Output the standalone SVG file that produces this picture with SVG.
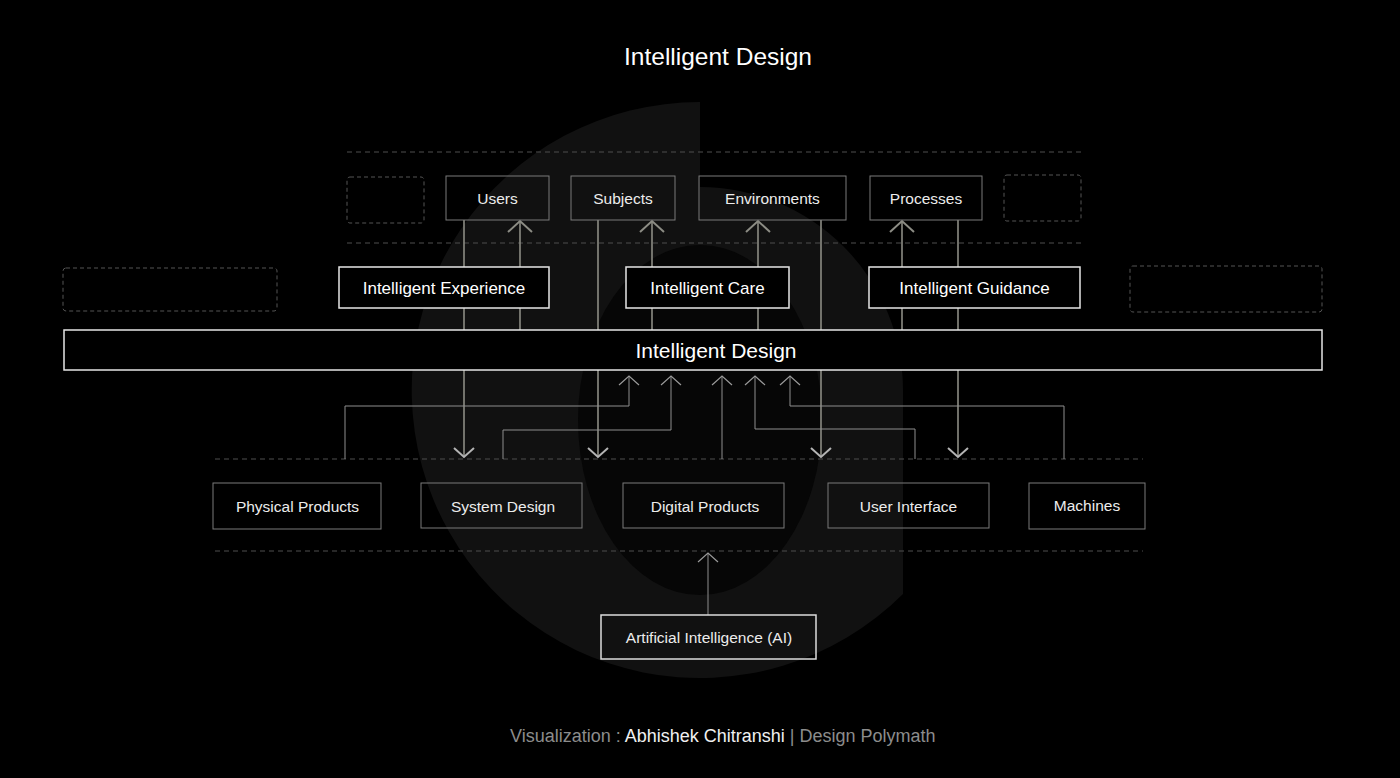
<svg xmlns="http://www.w3.org/2000/svg" width="1400" height="778" viewBox="0 0 1400 778">
<defs>
<style>
text{font-family:"Liberation Sans",Arial,sans-serif;text-anchor:middle}
.lbl{font-size:15.5px;fill:#ececec}
.mid{font-size:17px;fill:#ffffff}
.box{fill:none;stroke:#7a7a7a;stroke-width:1}
.wbox{fill:#000;stroke:#e6e6e6;stroke-width:1.5}
.ph{fill:none;stroke:#555;stroke-width:1;stroke-dasharray:4 3}
.dash{stroke:#4e4e4e;stroke-width:1;stroke-dasharray:5 4;fill:none}
.ct{fill:none;stroke:#8c8c84;stroke-width:1.6}
.cl{fill:none;stroke:#8e8e8e;stroke-width:1}
</style>
<marker id="aTop" markerUnits="userSpaceOnUse" markerWidth="30" markerHeight="30" viewBox="-15 -15 30 30" refX="0" refY="0" orient="auto" overflow="visible">
<path d="M-11,-12 L0,0 L-11,12" fill="none" stroke="#8c8c84" stroke-width="2"/>
</marker>
<marker id="aDown" markerUnits="userSpaceOnUse" markerWidth="30" markerHeight="30" viewBox="-15 -15 30 30" refX="0" refY="0" orient="auto" overflow="visible">
<path d="M-9,-10 L0,0 L-9,10" fill="none" stroke="#b4b4b4" stroke-width="2"/>
</marker>
<marker id="aLow" markerUnits="userSpaceOnUse" markerWidth="30" markerHeight="30" viewBox="-15 -15 30 30" refX="0" refY="0" orient="auto" overflow="visible">
<path d="M-9,-10 L0,0 L-9,10" fill="none" stroke="#9a9a9a" stroke-width="1.2"/>
</marker>
</defs>
<rect width="1400" height="778" fill="#000"/>
<g id="background-logo">
<path d="M700,102 A288,288 0 1 0 903,594 L903,390 A203,203 0 0 0 700,187 Z" fill="#111111"/>
<ellipse cx="700" cy="420" rx="122" ry="175" fill="#060606"/>
</g>
<text x="718" y="65" style="font-size:24.5px;fill:#fff">Intelligent Design</text>
<g id="guides">
<line class="dash" x1="347" y1="152" x2="1081" y2="152"/>
<line class="dash" x1="347" y1="243" x2="1081" y2="243"/>
<line class="dash" x1="215" y1="459" x2="1143" y2="459"/>
<line class="dash" x1="215" y1="551" x2="1143" y2="551"/>
</g>
<g id="connectors">
<line class="ct" x1="464" y1="220" x2="464" y2="457" marker-end="url(#aDown)"/>
<line class="ct" x1="520" y1="330" x2="520" y2="221" marker-end="url(#aTop)"/>
<line class="ct" x1="598" y1="220" x2="598" y2="457" marker-end="url(#aDown)"/>
<line class="ct" x1="652" y1="330" x2="652" y2="221" marker-end="url(#aTop)"/>
<line class="ct" x1="758" y1="330" x2="758" y2="221" marker-end="url(#aTop)"/>
<line class="ct" x1="821" y1="220" x2="821" y2="457" marker-end="url(#aDown)"/>
<line class="ct" x1="902" y1="330" x2="902" y2="221" marker-end="url(#aTop)"/>
<line class="ct" x1="958" y1="220" x2="958" y2="457" marker-end="url(#aDown)"/>
<path class="cl" d="M345,459 V406 H629 V376" marker-end="url(#aLow)"/>
<path class="cl" d="M503,459 V430 H671 V376" marker-end="url(#aLow)"/>
<path class="cl" d="M722,459 V376" marker-end="url(#aLow)"/>
<path class="cl" d="M915,459 V429 H755 V376" marker-end="url(#aLow)"/>
<path class="cl" d="M1064,459 V406 H790 V376" marker-end="url(#aLow)"/>
<path class="cl" d="M708,615 V553" marker-end="url(#aLow)"/>
</g>
<g id="placeholders">
<rect class="ph" x="347" y="177" width="77" height="46" rx="3"/>
<rect class="ph" x="1004" y="175" width="77" height="46" rx="3"/>
<rect class="ph" x="63" y="268" width="214" height="43" rx="3"/>
<rect class="ph" x="1130" y="266" width="192" height="46" rx="3"/>
</g>
<g id="users"><rect class="box" x="446" y="176" width="103" height="44"/><text class="lbl" x="497.5" y="203.5">Users</text></g>
<g id="subjects"><rect class="box" x="571" y="176" width="104" height="44"/><text class="lbl" x="623" y="203.5">Subjects</text></g>
<g id="environments"><rect class="box" x="699" y="176" width="147" height="44"/><text class="lbl" x="772.5" y="203.5">Environments</text></g>
<g id="processes"><rect class="box" x="870" y="176" width="112" height="44"/><text class="lbl" x="926" y="203.5">Processes</text></g>
<g id="intelligent-experience"><rect class="wbox" x="339" y="267" width="210" height="41"/><text class="mid" x="444" y="294">Intelligent Experience</text></g>
<g id="intelligent-care"><rect class="wbox" x="626" y="267" width="163" height="41"/><text class="mid" x="707.5" y="294">Intelligent Care</text></g>
<g id="intelligent-guidance"><rect class="wbox" x="869" y="267" width="211" height="41"/><text class="mid" x="974.5" y="294">Intelligent Guidance</text></g>
<g id="intelligent-design"><rect class="wbox" x="64" y="330" width="1258" height="40"/><text x="716" y="357.5" style="font-size:21px;fill:#fff">Intelligent Design</text></g>
<g id="physical-products"><rect class="box" x="213" y="483" width="168" height="46"/><text class="lbl" x="297.5" y="511.5">Physical Products</text></g>
<g id="system-design"><rect class="box" x="421" y="483" width="161" height="45"/><text class="lbl" x="503" y="511.5">System Design</text></g>
<g id="digital-products"><rect class="box" x="623" y="483" width="161" height="45"/><text class="lbl" x="705" y="511.5">Digital Products</text></g>
<g id="user-interface"><rect class="box" x="828" y="483" width="161" height="45"/><text class="lbl" x="908.5" y="511.5">User Interface</text></g>
<g id="machines"><rect class="box" x="1029" y="483" width="116" height="46"/><text class="lbl" x="1087" y="511">Machines</text></g>
<g id="artificial-intelligence"><rect class="box" x="601" y="615" width="215" height="44" style="stroke:#dcdcdc;stroke-width:1.5"/><text class="lbl" x="709" y="643">Artificial Intelligence (AI)</text></g>
<text x="510" y="742" style="font-size:18px;text-anchor:start;fill:#8c8c8c">Visualization : <tspan fill="#f0f0f0">Abhishek Chitranshi</tspan> | Design Polymath</text>
</svg>
